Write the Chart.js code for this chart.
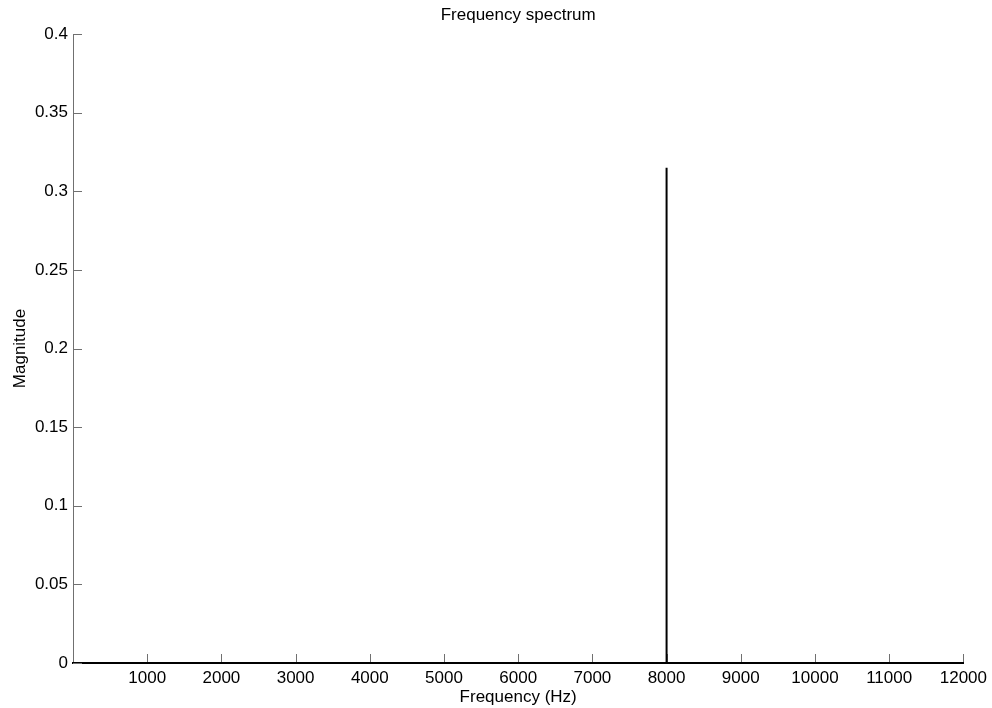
<!DOCTYPE html>
<html>
<head>
<meta charset="utf-8">
<script src="https://cdn.jsdelivr.net/npm/chart.js@4/dist/chart.umd.min.js"></script>
<style>
  html, body { margin: 0; padding: 0; background: #fff; }
  #wrap { width: 992px; height: 708px; }
</style>
</head>
<body>
<div id="wrap"><canvas id="spectrum"></canvas></div>
<script>
// spectrum: flat at zero, one line at 8 kHz
const freqHz    = [0, 8000, 8000, 8000, 12000];
const magnitude = [0, 0, 0.315, 0, 0];

// tick labels
const xTicks = [1000, 2000, 3000, 4000, 5000, 6000, 7000, 8000, 9000, 10000, 11000, 12000];
const yTicks = [0, 0.05, 0.1, 0.15, 0.2, 0.25, 0.3, 0.35, 0.4];

const chartTitle = 'Frequency spectrum';

Chart.defaults.font.family = "'Liberation Sans', Arial, sans-serif";
Chart.defaults.font.size = 17;
Chart.defaults.color = '#000';

// MATLAB style: tick marks point into the plot, title centred over the axes box
const matlabAxes = {
    id: 'matlabAxes',
    beforeDatasetsDraw(chart) {
        const { ctx, chartArea: a, scales: { x, y } } = chart;
        const len = 9;
        ctx.save();
        ctx.strokeStyle = '#707070';
        ctx.lineWidth = 1;
        ctx.beginPath();
        x.ticks.forEach(t => {
            const px = Math.round(x.getPixelForValue(t.value)) + 0.5;
            ctx.moveTo(px, a.bottom - 1);
            ctx.lineTo(px, a.bottom - len);
        });
        y.ticks.forEach(t => {
            const py = Math.round(y.getPixelForValue(t.value)) + 0.5;
            ctx.moveTo(a.left, py);
            ctx.lineTo(a.left + len, py);
        });
        ctx.stroke();

        ctx.fillStyle = '#000';
        ctx.font = "17px 'Liberation Sans', Arial, sans-serif";
        ctx.textAlign = 'center';
        ctx.textBaseline = 'middle';
        ctx.fillText(chartTitle, (a.left + a.right) / 2, 15);
        ctx.restore();
    }
};

new Chart(document.getElementById('spectrum'), {
    type: 'scatter',
    data: {
        datasets: [{
            data: freqHz.map((f, i) => ({ x: f, y: magnitude[i] })),
            showLine: true,
            borderColor: '#000',
            borderWidth: 2,
            pointRadius: 0,
            tension: 0,
            fill: false,
        }]
    },
    options: {
        responsive: true,
        maintainAspectRatio: false,
        animation: false,
        layout: { padding: { left: 0, right: 27, top: 34, bottom: 0 } },
        plugins: {
            legend: { display: false },
            tooltip: { enabled: false },
            title: { display: false },
        },
        scales: {
            x: {
                type: 'linear',
                min: 0, max: 12000,
                afterBuildTicks: s => { s.ticks = xTicks.map(v => ({ value: v })); },
                afterFit: s => { s.height = 45; },
                grid: { drawOnChartArea: false, drawTicks: false },
                border: { display: true, color: '#000', width: 2 },
                ticks: { padding: 5, maxRotation: 0, autoSkip: false, callback: v => String(v) },
                title: { display: true, text: 'Frequency (Hz)', font: { size: 17 }, padding: { top: 0, bottom: 0 } },
            },
            y: {
                type: 'linear',
                min: 0, max: 0.4,
                afterBuildTicks: s => { s.ticks = yTicks.map(v => ({ value: v })); },
                afterFit: s => { s.width = 73; },
                grid: { drawOnChartArea: false, drawTicks: false },
                border: { display: true, color: '#707070', width: 1 },
                ticks: { padding: 5, autoSkip: false, callback: v => String(+v.toFixed(2)) },
                title: { display: true, text: 'Magnitude', font: { size: 17 }, padding: { top: 10, bottom: 0 } },
            }
        }
    },
    plugins: [matlabAxes]
});
</script>
</body>
</html>
